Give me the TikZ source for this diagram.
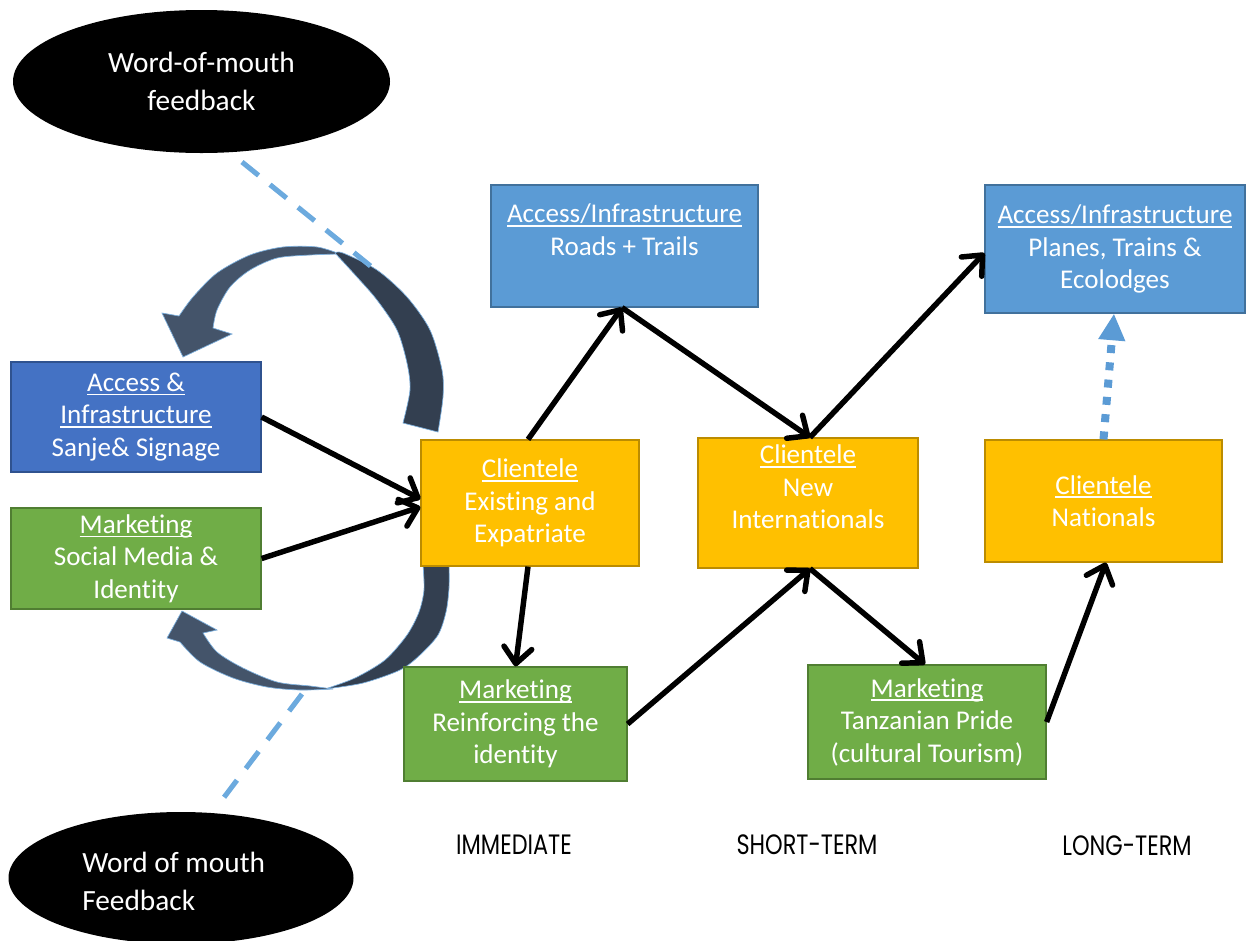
\documentclass[tikz,border=0pt]{standalone}
\usepackage{fontspec}
\setmainfont{Carlito}[Ligatures={NoCommon}]
\newfontfamily\lblfont[FakeStretch=0.8]{Poppins}
\usetikzlibrary{arrows.meta,calc,shapes.geometric}
\definecolor{bluel}{RGB}{91,155,213}
\definecolor{bluelb}{RGB}{65,113,156}
\definecolor{blued}{RGB}{68,114,196}
\definecolor{bluedb}{RGB}{47,82,143}
\definecolor{grn}{RGB}{112,173,71}
\definecolor{grnb}{RGB}{80,126,50}
\definecolor{ylw}{RGB}{255,192,0}
\definecolor{ylwb}{RGB}{188,140,0}
\definecolor{dashblue}{RGB}{108,170,222}
\definecolor{arrfront}{RGB}{68,84,106}
\definecolor{arrback}{RGB}{51,63,80}
\newcommand\ulx[1]{\setbox0\hbox{#1}\rlap{\rule[-3pt]{\wd0}{1.2pt}}\box0}
\begin{document}
\begin{tikzpicture}[x=0.75pt,y=-0.75pt,
  boxnode/.style={draw, line width=0.9pt, inner sep=0pt, align=center, text=white,
    font=\fontsize{20.3}{24.4}\selectfont},
  sz/.style 2 args={minimum width=#1*0.75pt, minimum height=#2*0.75pt},
  ellnode/.style={ellipse, fill=black, inner sep=0pt},
  wtext/.style={text=white, font=\fontsize{22}{28.5}\selectfont, inner sep=0pt},
  conn/.style={line width=4.1pt, -{Straight Barb[length=12pt,width=21pt,round]}},
  dotconn/.style={bluel, line width=6pt, dash pattern=on 6pt off 7pt, -{Triangle[length=20pt,width=19pt]}},
  fbline/.style={dashblue, line width=3.8pt, dash pattern=on 16pt off 11pt},
  bigarrow/.style={draw=bluel!80, line width=0.5pt},
  lbl/.style={font=\lblfont\fontsize{21}{24}\selectfont, inner sep=0pt}]
\useasboundingbox (0,0) rectangle (1248,940);

% ellipses
\node[ellnode, wtext, sz={377}{143}, align=center] (e1) at (201.5,81.5) {Word-of-mouth\\feedback};
\node[ellnode, sz={345}{132}] (e2) at (181,878) {};
\node[wtext, anchor=west, align=left] (e2t) at (82,881) {Word of mouth\\Feedback};

% curved block arrows (top)
\fill[arrfront, bigarrow] (162,313) -- plot[smooth] coordinates {(179,316) (193,297) (217,273) (250,255) (283,247) (317,247) (340,254)}
  -- plot[smooth] coordinates {(340,254) (310,255) (277,258) (250,270) (230,287) (217,310) (213,328)} -- (232,334) -- (183,357) -- cycle;
\fill[arrback, bigarrow] plot[smooth] coordinates {(335,253) (343,253) (377,270) (407,297) (430,330) (442,370) (443,397) (438,432)}
  -- plot[smooth] coordinates {(403,423) (410,390) (407,363) (397,330) (377,300) (357,277) (335,253)} -- cycle;
% curved block arrows (bottom)
\fill[arrback, bigarrow] plot[smooth] coordinates {(449,563) (449,588) (446,612) (438,635) (420,655) (400,670) (363,683) (325,689)}
  -- plot[smooth] coordinates {(325,689) (355,678) (385,660) (407,635) (419,612) (424,590) (423,565)} -- cycle;
\fill[arrfront, bigarrow] plot[smooth] coordinates {(333,689) (300,690) (267,687) (233,678) (200,662) (180,642)}
  -- (167,638) -- (182,611) -- (217,630) -- (203,633)
  -- plot[smooth] coordinates {(203,633) (217,652) (243,668) (277,682) (310,686) (333,689)} -- cycle;

% feedback dashed lines
\coordinate (f1a) at (242,162);
\coordinate (f1b) at (373,268);
\coordinate (f2a) at (302,694);
\coordinate (f2b) at (222,800);
\draw[fbline] (f1a) -- (f1b);
\draw[fbline] (f2a) -- (f2b);

% boxes
\node[boxnode, fill=bluel, draw=bluelb, sz={267}{122}] (rt) at (624.5,246) {\ulx{Access/Infrastructure}\\Roads + Trails\\\mbox{}};
\node[boxnode, fill=bluel, draw=bluelb, sz={260}{128}] (pt) at (1115,249) {\ulx{Access/Infrastructure}\\Planes, Trains \&\\Ecolodges};
\node[boxnode, fill=blued, draw=bluedb, sz={250}{110}] (lb) at (136,417) {\ulx{Access \&}\\\ulx{Infrastructure}\\Sanje\& Signage};
\node[boxnode, fill=grn, draw=grnb, sz={250}{101}] (lg) at (136,558.5) {\ulx{Marketing}\\Social Media \&\\Identity};
\node[boxnode, fill=ylw, draw=ylwb, sz={218}{126}] (y1) at (530,503) {\ulx{Clientele}\\Existing and\\Expatriate};
\node[boxnode, fill=ylw, draw=ylwb, sz={220}{130}] (y2) at (808,503) {\ulx{Clientele}\\New\\Internationals\\\mbox{}};
\node[boxnode, fill=ylw, draw=ylwb, sz={237}{122}] (y3) at (1103.5,501) {\ulx{Clientele}\\Nationals};
\node[boxnode, fill=grn, draw=grnb, sz={223}{114}] (g1) at (515.5,724) {\ulx{Marketing}\\Reinforcing the\\identity};
\node[boxnode, fill=grn, draw=grnb, sz={238}{114}] (g2) at (927,722) {\ulx{Marketing}\\Tanzanian Pride\\(cultural Tourism)};

% connectors
\draw[conn] (lb.east) -- ($(y1.west)+(0,-4)$);
\draw[conn] (lg.east) -- ($(y1.west)+(0,4)$);
\draw[conn] ($(y1.north)+(-2,0)$) -- ($(rt.south)+(-2.5,0)$);
\draw[conn] ($(rt.south)+(-2.5,0)$) -- ($(y2.north)+(2,0)$);
\draw[conn] ($(y2.north)+(2,0)$) -- ($(pt.west)+(0,4)$);
\draw[conn] ($(y1.south)+(-2,0)$) -- (g1.north);
\draw[conn] (g1.east) -- ($(y2.south)+(2,0)$);
\draw[conn] ($(y2.south)+(2,0)$) -- ($(g2.north)+(-2,0)$);
\draw[conn] (g2.east) -- ($(y3.south)+(2.5,0)$);
\draw[dotconn] (y3.north) -- ($(pt.south)+(-1,0)$);

% time labels
\node[lbl] (l1) at (514,845) {IMMEDIATE};
\node[lbl] (l2) at (807,845) {SHORT-TERM};
\node[lbl] (l3) at (1127,846) {LONG-TERM};
\end{tikzpicture}
\end{document}
